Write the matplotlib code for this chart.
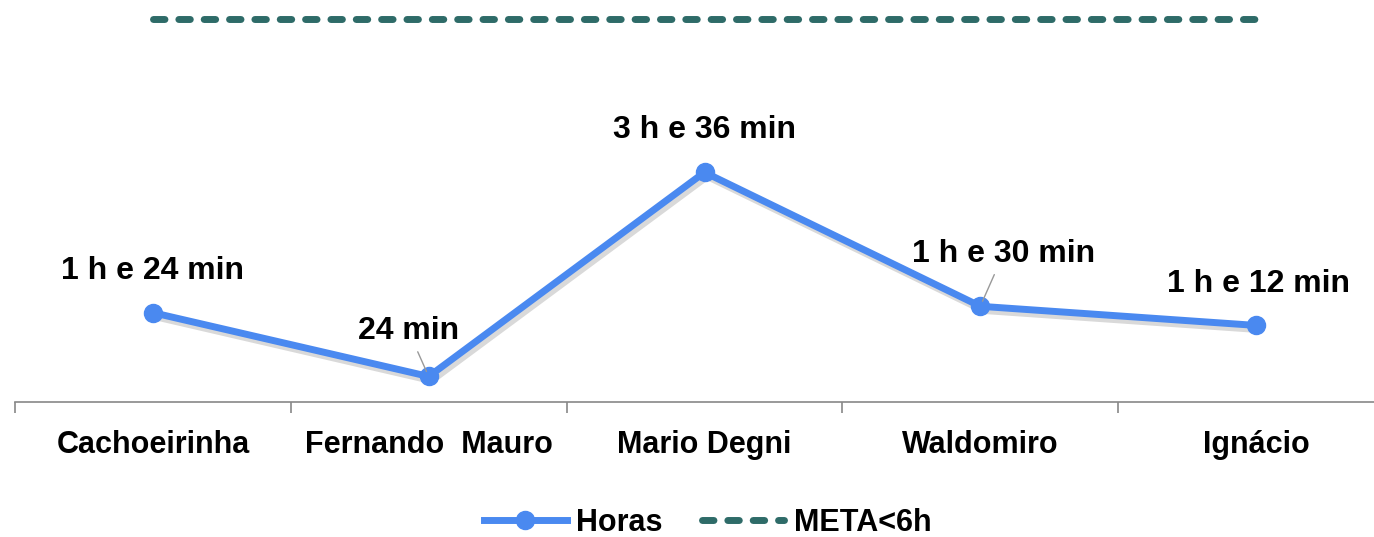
import numpy as np
import matplotlib.pyplot as plt
import matplotlib.patheffects as pe
from matplotlib.lines import Line2D

# Dados
unidades = ['Cachoeirinha', 'Fernando  Mauro', 'Mario Degni', 'Waldomiro', 'Ignácio']
horas = [1.4, 0.4, 3.6, 1.5, 1.2]
rotulos = ['1 h e 24 min', '24 min', '3 h e 36 min', '1 h e 30 min', '1 h e 12 min']
meta = [6, 6, 6, 6, 6]

# deslocamento dos rotulos (pixels)
desloc = [(0, 42), (-20, 45), (0, 42), (23, 52), (2, 41)]

plt.rcParams['font.family'] = ['Liberation Sans', 'DejaVu Sans']
plt.rcParams['font.weight'] = 'bold'

fig = plt.figure(figsize=(13.74, 5.37), dpi=100)
ax = fig.add_axes([15/1374, 135/537, 1379/1374, 402/537])

x = np.arange(len(unidades))
azul = '#4A89F0'
verde = '#2E6B68'

ax.plot(x, meta, color=verde, lw=5, dashes=(1.65, 2.0), dash_capstyle='round')
# linha com sombra leve
ax.plot(x, horas, color=azul, lw=5, solid_joinstyle='round', solid_capstyle='round',
        path_effects=[pe.SimpleLineShadow(offset=(2, -3), alpha=0.15), pe.Normal()])
ax.plot(x, horas, 'o', color=azul, markersize=13)

for i in range(len(x)):
    dx, dy = desloc[i]
    arrow = None
    if i in (1, 3):
        arrow = dict(arrowstyle='-', color='#999999', lw=1, shrinkA=2, shrinkB=4)
    ax.annotate(rotulos[i], (x[i], horas[i]), xytext=(dx, dy), textcoords='offset pixels',
                ha='center', va='center', fontsize=23, fontweight='bold',
                arrowprops=arrow)

ax.set_xlim(-0.5, 4.5)
ax.set_ylim(0, 6.3)
ax.set_xticks(x)
ax.set_xticklabels(unidades, fontsize=22, fontweight='bold')
ax.set_xticks(np.arange(-0.5, 5, 1), minor=True)
ax.tick_params(axis='x', which='major', length=0, pad=20)
ax.tick_params(axis='x', which='minor', length=8, width=1.2, color='#888888')
ax.set_yticks([])
for s in ['top', 'right', 'left']:
    ax.spines[s].set_visible(False)
ax.spines['bottom'].set_color('#888888')
ax.spines['bottom'].set_linewidth(1.2)

handles = [Line2D([], [], color=azul, lw=5, marker='o', markersize=13),
           Line2D([], [], color=verde, lw=5, dashes=(1.65, 2.0), dash_capstyle='round')]
fig.legend(handles, ['Horas', 'META<6h'], loc='center', bbox_to_anchor=(0.515, 0.027),
           ncol=2, frameon=False, handlelength=2.7, handletextpad=0.3,
           columnspacing=1.3, prop={'weight': 'bold', 'size': 22})

fig.savefig('out.png', dpi=100)
